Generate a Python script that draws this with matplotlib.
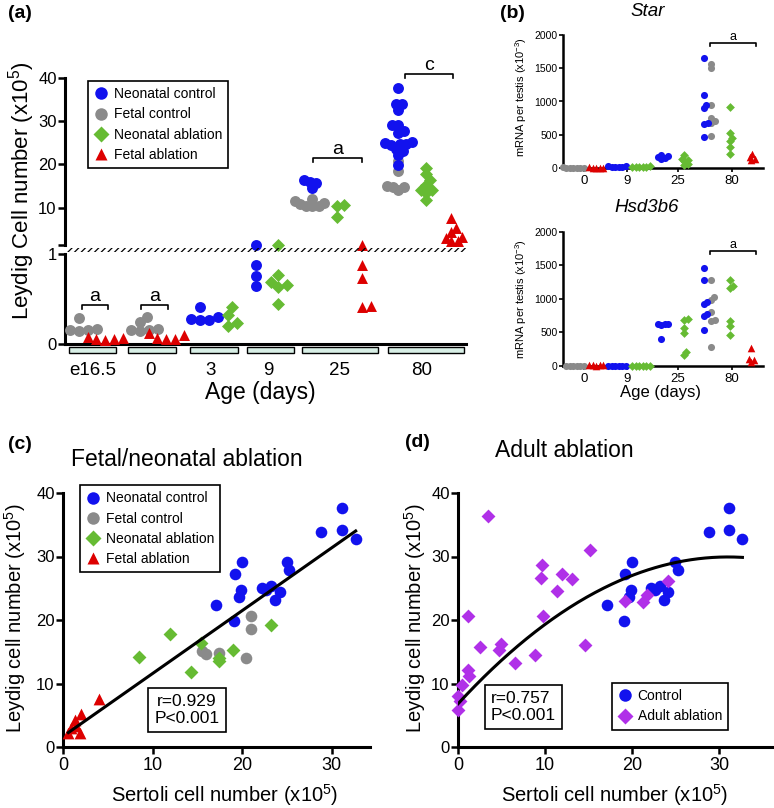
import numpy as np
import matplotlib
matplotlib.use("Agg")
import matplotlib.pyplot as plt
from matplotlib.lines import Line2D
from matplotlib.patches import Rectangle

W, H = 774, 808
plt.rcParams["font.family"] = ["Liberation Sans", "DejaVu Sans"]
plt.rcParams["mathtext.default"] = "regular"
plt.rcParams["hatch.linewidth"] = 0.9

BLUE = "#1212ee"
GRAY = "#8a8a8a"
GREEN = "#66bb33"
RED = "#dd0000"
PURPLE = "#b030e8"
BOX_FILL = "#d8efe6"

# ---------------- data ----------------
# panel (c)/(d): adult (day 80) Sertoli vs Leydig cell number, x10^5
NEO_CTRL_SERTOLI = [31.2, 28.8, 31.2, 32.7, 20.0, 19.2, 25.0, 25.3, 19.9, 19.7,
                    22.2, 23.2, 24.2, 23.7, 22.7, 17.1, 19.1]
NEO_CTRL_LEYDIG = [37.7, 33.9, 34.1, 32.7, 29.1, 27.2, 29.1, 27.8, 24.7, 23.6,
                   25.0, 25.3, 24.4, 23.2, 24.7, 22.3, 19.9]
FETAL_CTRL_SERTOLI = [21.0, 21.0, 15.5, 16.0, 17.4, 20.5]
FETAL_CTRL_LEYDIG = [20.7, 18.6, 15.1, 14.7, 14.8, 14.0]
NEO_ABL_SERTOLI = [8.5, 12.0, 14.3, 15.4, 17.4, 17.4, 19.0, 23.2]
NEO_ABL_LEYDIG = [14.1, 17.8, 11.8, 16.4, 13.5, 14.0, 15.3, 19.2]
FETAL_ABL_SERTOLI = [4.0, 2.0, 1.3, 0.9, 1.9, 0.6, 1.5]
FETAL_ABL_LEYDIG = [7.6, 5.2, 4.3, 3.0, 2.2, 2.2, 3.3]
ADULT_ABL_SERTOLI = [3.5, 1.1, 15.2, 9.6, 9.5, 12.0, 13.1, 11.4, 9.8, 2.5, 5.0,
                     4.7, 6.5, 8.8, 14.6, 1.2, 1.3, 0.5, 0.0, 0.2, 0.0, 19.2,
                     21.3, 21.7, 24.1]
ADULT_ABL_LEYDIG = [36.3, 20.7, 31.0, 28.6, 26.6, 27.2, 26.4, 24.5, 20.6, 15.7,
                    16.2, 15.3, 13.3, 14.5, 16.0, 12.1, 11.2, 9.7, 8.0, 7.2,
                    5.9, 23.0, 22.8, 24.0, 26.2]
# second-order fit shown in panel (d) (c0 + c1*x + c2*x^2)
D_FIT_COEF = [6.8, 1.49, -0.024]

# panel (a): Leydig cell number by age, x10^5 (one list per age group)
A_AGES = ["e16.5", "0", "3", "9", "25", "80"]
A_FETAL_CTRL = [[0.29, 0.17, 0.15, 0.14, 0.16], [0.30, 0.24, 0.17, 0.14, 0.15, 0.16],
                [], [], [12.0, 11.5, 11.0, 10.5, 10.4, 10.3, 10.8], FETAL_CTRL_LEYDIG]
A_FETAL_ABL = [[0.05, 0.07, 0.08, 0.04, 0.05], [0.10, 0.12, 0.06, 0.05, 0.07],
               [], [], [1.1, 0.88, 0.73, 0.41, 0.42], FETAL_ABL_LEYDIG]
A_NEO_CTRL = [[], [], [0.41, 0.30, 0.27, 0.27, 0.28], [1.1, 0.88, 0.76, 0.64],
              [15.9, 16.5, 14.5, 15.7], NEO_CTRL_LEYDIG]
A_NEO_ABL = [[], [], [0.32, 0.41, 0.20, 0.23], [1.1, 0.69, 0.66, 0.77, 0.63, 0.44],
             [10.5, 7.9, 10.6], NEO_ABL_LEYDIG]

# panel (b): mRNA per testis (x10^-3)
B_AGES = ["0", "9", "25", "80"]
STAR_FETAL_CTRL = [[8, 4, 6, 2, 5, 3, 7], [], [], [1570, 1500, 950, 750, 700, 680, 480]]
STAR_FETAL_ABL = [[6, 3, 8, 4, 5], [], [], [210, 170, 130, 120]]
STAR_NEO_CTRL = [[], [25, 18, 30, 20, 15, 22], [200, 150, 130, 180, 160],
                 [1650, 1100, 950, 900, 680, 660, 470]]
STAR_NEO_ABL = [[], [22, 15, 28, 10, 18, 12], [190, 140, 120, 100, 60, 40],
                [920, 520, 450, 400, 310, 210]]
HSD_FETAL_CTRL = [[5, 0, 3, 0, 2, 4], [], [], [1290, 1030, 990, 800, 690, 665, 290]]
HSD_FETAL_ABL = [[10, 20, 5, 15, 8], [], [], [265, 100, 90, 60]]
HSD_NEO_CTRL = [[], [0, 2, 0, 3, 1, 0], [620, 625, 615, 630, 400],
                [1460, 1280, 960, 920, 770, 740, 530]]
HSD_NEO_ABL = [[], [0, 2, 1, 0, 3, 0], [700, 690, 565, 490, 215, 165],
               [1290, 1200, 1165, 675, 600, 465]]

# ---------------- layout (pixel positions on the 774x808 canvas) ----------------
A_LABEL_X = [93, 150, 211, 268, 340, 422]
A_BOXES = [(69, 116), (128, 176), (190, 238), (247, 294), (302, 378), (388, 464)]
A_X_FETAL_CTRL = [79, 140, None, None, 312, 398]
A_X_FETAL_ABL = [105, 166, None, None, 362, 451]
A_X_NEO_CTRL = [None, None, 200, 256, 312, 398]
A_X_NEO_ABL = [None, None, 228, 278, 337, 426]
B_TICK_X = [584, 627, 678, 732]
B_X_FETAL_CTRL = [573, None, None, 711]
B_X_FETAL_ABL = [596, None, None, 751]
B_X_NEO_CTRL = [None, 615, 661, 704]
B_X_NEO_ABL = [None, 639, 684, 730]

fig = plt.figure(figsize=(W / 100, H / 100), dpi=100)


def px_axes(left, top, right, bottom):
    return fig.add_axes([left / W, 1 - bottom / H, (right - left) / W, (bottom - top) / H])


def fig_text(x, y, s, **kw):
    kw.setdefault("ha", "center")
    kw.setdefault("va", "center")
    fig.text(x / W, 1 - y / H, s, **kw)


def style(ax, lw=2.2):
    for sp in ("top", "right"):
        ax.spines[sp].set_visible(False)
    for sp in ("left", "bottom"):
        ax.spines[sp].set_linewidth(lw)
    ax.set_facecolor("none")


def swarm_x(ax, xc, vals, diam, k):
    # spread overlapping points sideways (in display pixels)
    vals = np.asarray(vals, dtype=float)
    pts = ax.transData.transform(np.column_stack([np.full(vals.size, xc), vals]))
    ys = pts[:, 1]
    gap = diam * k
    cands = [0.0]
    for j in range(1, 80):
        cands += [j * 0.5, -j * 0.5]
    offs = np.zeros(vals.size)
    placed = []
    for i in np.argsort(ys):
        for off in cands:
            if all((off - px) ** 2 + (ys[i] - py) ** 2 >= gap ** 2 for px, py in placed):
                break
        placed.append((off, ys[i]))
        offs[i] = off
    back = ax.transData.inverted().transform(np.column_stack([pts[:, 0] + offs, ys]))
    return back[:, 0]


def dots(ax, xc, vals, color, marker, s, diam, k):
    if len(vals) == 0:
        return
    xs = swarm_x(ax, xc, vals, diam, k)
    ax.scatter(xs, vals, s=s, c=color, marker=marker, linewidths=0,
               clip_on=False, zorder=3)


def px_dy(ax, px):
    y0, y1 = ax.get_ylim()
    return px * (y1 - y0) / ax.bbox.height


def bracket(ax, x0, x1, y, text, fs, drop_px=4):
    d = px_dy(ax, drop_px)
    ax.plot([x0, x0, x1, x1], [y - d, y, y, y - d], color="black", lw=1.2,
            clip_on=False)
    ax.annotate(text, ((x0 + x1) / 2, y), xytext=(0, 0), textcoords="offset points",
                ha="center", va="bottom", fontsize=fs, annotation_clip=False)


def legend_handles(items, ms=9):
    return [Line2D([0], [0], marker=m, color="none", markerfacecolor=c,
                   markeredgecolor="none", markersize=ms * (0.85 if m == "D" else 1),
                   label=l) for l, c, m in items]


def boxed_legend(ax, items, anchor, fs=10):
    leg = ax.legend(handles=legend_handles(items), loc="upper left",
                    bbox_to_anchor=anchor, borderaxespad=0, frameon=True,
                    fancybox=False, edgecolor="black", framealpha=1, fontsize=fs,
                    handlelength=1.0, handletextpad=0.4, labelspacing=0.45,
                    borderpad=0.45)
    leg.get_frame().set_linewidth(1.2)


LEGEND4 = [("Neonatal control", BLUE, "o"), ("Fetal control", GRAY, "o"),
           ("Neonatal ablation", GREEN, "D"), ("Fetal ablation", RED, "^")]

# ---------------- panel (a) ----------------
ax_up = px_axes(65, 78, 466, 250)
ax_lo = px_axes(65, 250, 466, 344)
for ax in (ax_up, ax_lo):
    ax.set_xlim(65, 466)
    style(ax)
    ax.tick_params(axis="y", length=5, width=1.8, labelsize=12, pad=1)
ax_up.set_ylim(0.215, 40)
ax_lo.set_ylim(0, 1.044)
ax_up.spines["bottom"].set_visible(False)
ax_up.spines["left"].set_bounds(1.37, 40)
ax_lo.spines["left"].set_bounds(0, 1)
ax_up.set_xticks([])
ax_up.set_yticks([1.37, 10, 20, 30, 40], ["", "10", "20", "30", "40"])
ax_lo.set_yticks([0, 1])
ax_lo.set_xticks(A_LABEL_X, A_AGES)
ax_lo.tick_params(axis="x", length=0, pad=13, labelsize=13.5)

for x0, x1 in A_BOXES:
    ax_lo.add_patch(Rectangle((x0, -0.096), x1 - x0, 0.064,
                              transform=ax_lo.get_xaxis_transform(),
                              facecolor=BOX_FILL, edgecolor="black", lw=1,
                              clip_on=False))

fig.add_artist(Rectangle((67 / W, 1 - 252 / H), 399 / W, 4 / H,
                         transform=fig.transFigure, facecolor="none",
                         edgecolor="black", hatch="/////", lw=0))

A_SERIES = [(A_FETAL_CTRL, A_X_FETAL_CTRL, GRAY, "o", 62),
            (A_NEO_CTRL, A_X_NEO_CTRL, BLUE, "o", 62),
            (A_NEO_ABL, A_X_NEO_ABL, GREEN, "D", 44),
            (A_FETAL_ABL, A_X_FETAL_ABL, RED, "^", 62)]
for groups, centers, color, marker, s in A_SERIES:
    for vals, xc in zip(groups, centers):
        if xc is None:
            continue
        lo = [v for v in vals if v < 1.2]
        hi = [v for v in vals if v >= 1.2]
        dots(ax_lo, xc, lo, color, marker, s, 11, 0.8)
        dots(ax_up, xc, hi, color, marker, s, 11, 0.55)

bracket(ax_lo, 82, 108, 0.433, "a", 14)
bracket(ax_lo, 141, 168, 0.433, "a", 14)
bracket(ax_up, 313, 362, 21.5, "a", 14)
bracket(ax_up, 405, 453, 40.9, "c", 14)
boxed_legend(ax_up, LEGEND4, (0.057, 0.983))

fig_text(22, 191, "Leydig Cell number (x10$^{5}$)", rotation=90, fontsize=16)
fig_text(260, 393, "Age (days)", fontsize=16.5)
fig_text(20, 14, "(a)", fontsize=14, fontweight="bold")

# ---------------- panel (b) ----------------
ax_s = px_axes(563, 35, 763, 168)
ax_h = px_axes(563, 232, 763, 366)
B_PANELS = [(ax_s, STAR_FETAL_CTRL, STAR_NEO_CTRL, STAR_NEO_ABL, STAR_FETAL_ABL, 1880),
            (ax_h, HSD_FETAL_CTRL, HSD_NEO_CTRL, HSD_NEO_ABL, HSD_FETAL_ABL, 1721)]
for ax, fc, nc, na, fa, yb in B_PANELS:
    style(ax, 1.8)
    ax.set_xlim(563, 763)
    ax.set_ylim(0, 2000)
    ax.set_yticks(np.arange(0, 2001, 500))
    ax.set_xticks(B_TICK_X, B_AGES)
    ax.tick_params(axis="y", labelsize=7.5, length=3, width=1.2, pad=1)
    ax.tick_params(axis="x", labelsize=9.5, length=3, width=1.2, pad=2)
    for groups, centers, color, marker, s in [(fc, B_X_FETAL_CTRL, GRAY, "o", 26),
                                              (nc, B_X_NEO_CTRL, BLUE, "o", 26),
                                              (na, B_X_NEO_ABL, GREEN, "D", 20),
                                              (fa, B_X_FETAL_ABL, RED, "^", 30)]:
        for vals, xc in zip(groups, centers):
            if xc is not None:
                dots(ax, xc, vals, color, marker, s, 7, 0.5)
    bracket(ax, 710, 756, yb, "a", 9, drop_px=3)

fig_text(648, 11, "Star", fontsize=13.5, style="italic")
fig_text(647, 207, "Hsd3b6", fontsize=13.5, style="italic")
fig_text(521, 97, "mRNA per testis (x10$^{-3}$)", rotation=90, fontsize=8)
fig_text(521, 299, "mRNA per testis (x10$^{-3}$)", rotation=90, fontsize=8)
fig_text(661, 393, "Age (days)", fontsize=12)
fig_text(512, 13, "(b)", fontsize=14, fontweight="bold")

# ---------------- panel (c) ----------------
ax_c = px_axes(63, 493, 370, 747)
ax_d = px_axes(458, 493, 772, 747)
for ax, xmax in ((ax_c, 34.3), (ax_d, 36.1)):
    style(ax)
    ax.set_xlim(0, xmax)
    ax.set_ylim(0, 40)
    ax.set_xticks([0, 10, 20, 30])
    ax.set_yticks([0, 10, 20, 30, 40])
    ax.tick_params(axis="y", length=5, width=1.8, labelsize=12, pad=1)
    ax.tick_params(axis="x", length=5, width=1.8, labelsize=13, pad=2)

ax_c.scatter(NEO_CTRL_SERTOLI, NEO_CTRL_LEYDIG, s=70, c=BLUE, marker="o", linewidths=0, clip_on=False, zorder=3)
ax_c.scatter(FETAL_CTRL_SERTOLI, FETAL_CTRL_LEYDIG, s=70, c=GRAY, marker="o", linewidths=0, clip_on=False, zorder=3)
ax_c.scatter(NEO_ABL_SERTOLI, NEO_ABL_LEYDIG, s=50, c=GREEN, marker="D", linewidths=0, clip_on=False, zorder=3)
ax_c.scatter(FETAL_ABL_SERTOLI, FETAL_ABL_LEYDIG, s=72, c=RED, marker="^", linewidths=0, clip_on=False, zorder=3)

cx = np.array(NEO_CTRL_SERTOLI + FETAL_CTRL_SERTOLI + NEO_ABL_SERTOLI + FETAL_ABL_SERTOLI)
cy = np.array(NEO_CTRL_LEYDIG + FETAL_CTRL_LEYDIG + NEO_ABL_LEYDIG + FETAL_ABL_LEYDIG)
slope, icpt = np.polyfit(cx, cy, 1)
lx = np.array([cx.min(), cx.max()])
ax_c.plot(lx, slope * lx + icpt, color="black", lw=2.2, zorder=4)

ax_c.text(0.404, 0.146, "r=0.929\nP<0.001", transform=ax_c.transAxes, ha="center",
          va="center", fontsize=12.5, linespacing=1.2,
          bbox=dict(boxstyle="square,pad=0.35", fc="white", ec="black", lw=1.2))
boxed_legend(ax_c, LEGEND4, (0.055, 1.031))
fig_text(187, 460, "Fetal/neonatal ablation", fontsize=16.5)
fig_text(15, 618, "Leydig cell number (x10$^{5}$)", rotation=90, fontsize=14.5)
fig_text(225, 795, "Sertoli cell number (x10$^{5}$)", fontsize=14.5)
fig_text(20, 444, "(c)", fontsize=14, fontweight="bold")

# ---------------- panel (d) ----------------
ax_d.scatter(NEO_CTRL_SERTOLI, NEO_CTRL_LEYDIG, s=70, c=BLUE, marker="o", linewidths=0, clip_on=False, zorder=3)
ax_d.scatter(ADULT_ABL_SERTOLI, ADULT_ABL_LEYDIG, s=50, c=PURPLE, marker="D", linewidths=0, clip_on=False, zorder=3)
dx = np.array(NEO_CTRL_SERTOLI + ADULT_ABL_SERTOLI)
qx = np.linspace(dx.min(), dx.max(), 200)
ax_d.plot(qx, np.polyval(D_FIT_COEF[::-1], qx), color="black", lw=2.2, zorder=4)

ax_d.text(0.209, 0.157, "r=0.757\nP<0.001", transform=ax_d.transAxes, ha="center",
          va="center", multialignment="left", fontsize=12.5, linespacing=1.2,
          bbox=dict(boxstyle="square,pad=0.35", fc="white", ec="black", lw=1.2))
boxed_legend(ax_d, [("Control", BLUE, "o"), ("Adult ablation", PURPLE, "D")],
             (0.49, 0.252))
fig_text(564, 450, "Adult ablation", fontsize=16.5)
fig_text(415, 618, "Leydig cell number (x10$^{5}$)", rotation=90, fontsize=14.5)
fig_text(615, 795, "Sertoli cell number (x10$^{5}$)", fontsize=14.5)
fig_text(417, 442, "(d)", fontsize=14, fontweight="bold")

fig.savefig("out.png", dpi=100)
